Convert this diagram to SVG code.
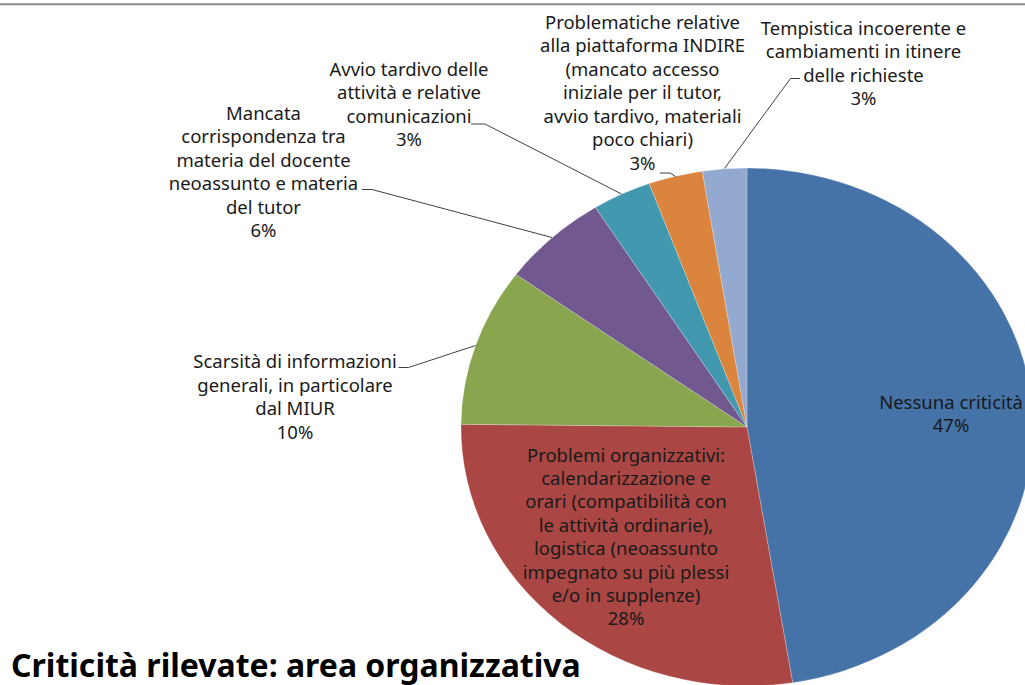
<svg xmlns="http://www.w3.org/2000/svg" width="1025" height="685" viewBox="0 0 1025 685">
<style>
.lbl{font-family:"Noto Sans","Open Sans","DejaVu Sans",sans-serif;font-size:18.5px;fill:#1a1a1a;text-anchor:middle}
.ttl{font-family:"Noto Sans","Open Sans","DejaVu Sans",sans-serif;font-size:32px;font-weight:bold;fill:#000}
.ldr{fill:none;stroke:#404040;stroke-width:1}
.sl{stroke:#ffffff;stroke-width:0.4;stroke-opacity:0.6}
</style>
<rect x="0" y="0" width="1025" height="685" fill="#ffffff"/>
<line x1="0" y1="4.3" x2="1025" y2="4.3" stroke="#888888" stroke-width="2"/>
<g id="pie">
<g id="slice-nessuna"><path class="sl" fill="#4572A7" d="M747,427 L747,168 A286,259 0 0 1 792.7,682.7 Z"/></g>
<g id="slice-problemi"><path class="sl" fill="#AA4643" d="M747,427 L792.7,682.7 A286,259 0 0 1 461,424.3 Z"/></g>
<g id="slice-scarsita"><path class="sl" fill="#89A54E" d="M747,427 L461,424.3 A286,259 0 0 1 516.1,274.4 Z"/></g>
<g id="slice-mancata"><path class="sl" fill="#71588F" d="M747,427 L516.1,274.4 A286,259 0 0 1 595.4,207.4 Z"/></g>
<g id="slice-avvio"><path class="sl" fill="#4198AF" d="M747,427 L595.4,207.4 A286,259 0 0 1 649.2,183.6 Z"/></g>
<g id="slice-indire"><path class="sl" fill="#DB843D" d="M747,427 L649.2,183.6 A286,259 0 0 1 702.3,171.2 Z"/></g>
<g id="slice-tempistica"><path class="sl" fill="#93A9CF" d="M747,427 L702.3,171.2 A286,259 0 0 1 747,168 Z"/></g>
</g>
<g id="connectors">
<path class="ldr" d="M800,78.5 H790.5 L724.5,168.5"/>
<path class="ldr" d="M660,173 H670 L675.5,176.5"/>
<path class="ldr" d="M471,124 H485 L621.5,194"/>
<path class="ldr" d="M362,189.5 H372 L552,237.5"/>
<path class="ldr" d="M398.5,367.5 H408.5 L475.5,345.5"/>
</g>
<g id="label-nessuna">
<text class="lbl" x="951" y="408.5">Nessuna criticità</text>
<text class="lbl" x="951" y="432">47%</text>
</g>
<g id="label-problemi">
<text class="lbl" x="626" y="461.5">Problemi organizzativi:</text>
<text class="lbl" x="626" y="485">calendarizzazione e</text>
<text class="lbl" x="626" y="508.4">orari (compatibilità con</text>
<text class="lbl" x="626" y="531.8">le attività ordinarie),</text>
<text class="lbl" x="626" y="555.2">logistica (neoassunto</text>
<text class="lbl" x="626" y="578.6">impegnato su più plessi</text>
<text class="lbl" x="626" y="602">e/o in supplenze)</text>
<text class="lbl" x="626" y="625.4">28%</text>
</g>
<g id="label-scarsita">
<text class="lbl" x="295" y="368">Scarsità di informazioni</text>
<text class="lbl" x="295" y="391.5">generali, in particolare</text>
<text class="lbl" x="295" y="415">dal MIUR</text>
<text class="lbl" x="295" y="438.5">10%</text>
</g>
<g id="label-mancata">
<text class="lbl" x="263.5" y="119.5">Mancata</text>
<text class="lbl" x="263.5" y="143">corrispondenza tra</text>
<text class="lbl" x="263.5" y="166.5">materia del docente</text>
<text class="lbl" x="263.5" y="190">neoassunto e materia</text>
<text class="lbl" x="263.5" y="213.5">del tutor</text>
<text class="lbl" x="263.5" y="237">6%</text>
</g>
<g id="label-avvio">
<text class="lbl" x="409" y="75.5">Avvio tardivo delle</text>
<text class="lbl" x="409" y="99">attività e relative</text>
<text class="lbl" x="409" y="122.5">comunicazioni</text>
<text class="lbl" x="409" y="146">3%</text>
</g>
<g id="label-indire">
<text class="lbl" x="642.5" y="28.5">Problematiche relative</text>
<text class="lbl" x="642.5" y="52">alla piattaforma INDIRE</text>
<text class="lbl" x="642.5" y="75.5">(mancato accesso</text>
<text class="lbl" x="642.5" y="99">iniziale per il tutor,</text>
<text class="lbl" x="642.5" y="122.5">avvio tardivo, materiali</text>
<text class="lbl" x="642.5" y="146">poco chiari)</text>
<text class="lbl" x="642.5" y="169.5">3%</text>
</g>
<g id="label-tempistica">
<text class="lbl" x="863.5" y="34.5">Tempistica incoerente e</text>
<text class="lbl" x="863.5" y="58">cambiamenti in itinere</text>
<text class="lbl" x="863.5" y="81.5">delle richieste</text>
<text class="lbl" x="863.5" y="105">3%</text>
</g>
<g id="title">
<text class="ttl" x="11" y="677">Criticità rilevate: area organizzativa</text>
</g>
</svg>
